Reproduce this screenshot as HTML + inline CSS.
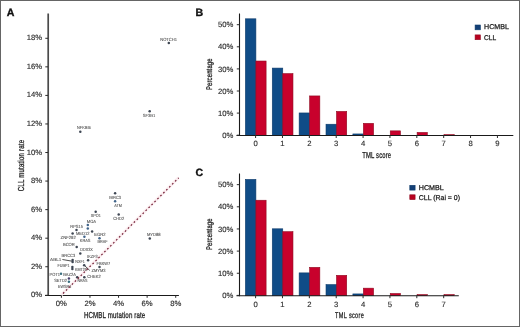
<!DOCTYPE html>
<html><head><meta charset="utf-8"><style>
html,body{margin:0;padding:0;background:#fff;}
body{width:520px;height:327px;overflow:hidden;}
.fig{position:absolute;left:0;top:0;width:520px;height:327px;will-change:transform;}
svg{display:block;font-family:"Liberation Sans", sans-serif;text-rendering:geometricPrecision;}
</style></head><body>
<div class="fig">
<svg width="520" height="327" viewBox="0 0 520 327">
<rect x="0" y="0" width="520" height="327" fill="#fff"/>
<text x="6.7" y="15.6" font-size="10.6" text-anchor="start" fill="#111" font-weight="bold" stroke="#111" stroke-width="0.35">A</text>
<text x="195.6" y="15.8" font-size="10.6" text-anchor="start" fill="#111" font-weight="bold" stroke="#111" stroke-width="0.35">B</text>
<text x="195.6" y="176.1" font-size="10.6" text-anchor="start" fill="#111" font-weight="bold" stroke="#111" stroke-width="0.35">C</text>
<line x1="48.2" y1="13.5" x2="48.2" y2="296.0" stroke="#4a4a4a" stroke-width="1.7" />
<line x1="45" y1="295.5" x2="178.9" y2="295.5" stroke="#1a1a1a" stroke-width="1.2" />
<line x1="45.3" y1="295.3" x2="48" y2="295.3" stroke="#2a2a2a" stroke-width="1" />
<text x="42.1" y="297.3" font-size="7.7" text-anchor="end" fill="#2a2a2a" font-weight="normal" stroke="#333" stroke-width="0.14">0%</text>
<line x1="45.3" y1="266.744" x2="48" y2="266.744" stroke="#2a2a2a" stroke-width="1" />
<text x="42.1" y="268.744" font-size="7.7" text-anchor="end" fill="#2a2a2a" font-weight="normal" stroke="#333" stroke-width="0.14">2%</text>
<line x1="45.3" y1="238.18800000000002" x2="48" y2="238.18800000000002" stroke="#2a2a2a" stroke-width="1" />
<text x="42.1" y="240.18800000000002" font-size="7.7" text-anchor="end" fill="#2a2a2a" font-weight="normal" stroke="#333" stroke-width="0.14">4%</text>
<line x1="45.3" y1="209.632" x2="48" y2="209.632" stroke="#2a2a2a" stroke-width="1" />
<text x="42.1" y="211.632" font-size="7.7" text-anchor="end" fill="#2a2a2a" font-weight="normal" stroke="#333" stroke-width="0.14">6%</text>
<line x1="45.3" y1="181.07600000000002" x2="48" y2="181.07600000000002" stroke="#2a2a2a" stroke-width="1" />
<text x="42.1" y="183.07600000000002" font-size="7.7" text-anchor="end" fill="#2a2a2a" font-weight="normal" stroke="#333" stroke-width="0.14">8%</text>
<line x1="45.3" y1="152.52" x2="48" y2="152.52" stroke="#2a2a2a" stroke-width="1" />
<text x="42.1" y="154.52" font-size="7.7" text-anchor="end" fill="#2a2a2a" font-weight="normal" stroke="#333" stroke-width="0.14">10%</text>
<line x1="45.3" y1="123.964" x2="48" y2="123.964" stroke="#2a2a2a" stroke-width="1" />
<text x="42.1" y="125.964" font-size="7.7" text-anchor="end" fill="#2a2a2a" font-weight="normal" stroke="#333" stroke-width="0.14">12%</text>
<line x1="45.3" y1="95.40800000000002" x2="48" y2="95.40800000000002" stroke="#2a2a2a" stroke-width="1" />
<text x="42.1" y="97.40800000000002" font-size="7.7" text-anchor="end" fill="#2a2a2a" font-weight="normal" stroke="#333" stroke-width="0.14">14%</text>
<line x1="45.3" y1="66.852" x2="48" y2="66.852" stroke="#2a2a2a" stroke-width="1" />
<text x="42.1" y="68.852" font-size="7.7" text-anchor="end" fill="#2a2a2a" font-weight="normal" stroke="#333" stroke-width="0.14">16%</text>
<line x1="45.3" y1="38.29599999999999" x2="48" y2="38.29599999999999" stroke="#2a2a2a" stroke-width="1" />
<text x="42.1" y="40.29599999999999" font-size="7.7" text-anchor="end" fill="#2a2a2a" font-weight="normal" stroke="#333" stroke-width="0.14">18%</text>
<line x1="61.4" y1="295.3" x2="61.4" y2="297.8" stroke="#2a2a2a" stroke-width="1" />
<text x="61.4" y="306.4" font-size="7.7" text-anchor="middle" fill="#2a2a2a" font-weight="normal" stroke="#333" stroke-width="0.14">0%</text>
<line x1="89.97999999999999" y1="295.3" x2="89.97999999999999" y2="297.8" stroke="#2a2a2a" stroke-width="1" />
<text x="89.97999999999999" y="306.4" font-size="7.7" text-anchor="middle" fill="#2a2a2a" font-weight="normal" stroke="#333" stroke-width="0.14">2%</text>
<line x1="118.56" y1="295.3" x2="118.56" y2="297.8" stroke="#2a2a2a" stroke-width="1" />
<text x="118.56" y="306.4" font-size="7.7" text-anchor="middle" fill="#2a2a2a" font-weight="normal" stroke="#333" stroke-width="0.14">4%</text>
<line x1="147.14" y1="295.3" x2="147.14" y2="297.8" stroke="#2a2a2a" stroke-width="1" />
<text x="147.14" y="306.4" font-size="7.7" text-anchor="middle" fill="#2a2a2a" font-weight="normal" stroke="#333" stroke-width="0.14">6%</text>
<line x1="175.72" y1="295.3" x2="175.72" y2="297.8" stroke="#2a2a2a" stroke-width="1" />
<text x="175.72" y="306.4" font-size="7.7" text-anchor="middle" fill="#2a2a2a" font-weight="normal" stroke="#333" stroke-width="0.14">8%</text>
<text x="0" y="0" font-size="8.6" fill="#222" stroke="#222" stroke-width="0.28" textLength="85.28" lengthAdjust="spacing" transform="translate(83.9,317.6) scale(0.72,1)">HCMBL mutation rate</text>
<text x="0" y="0" font-size="8.7" fill="#222" stroke="#222" stroke-width="0.28" textLength="73.43" lengthAdjust="spacing" transform="translate(24.4,191.3) rotate(-90) scale(0.7,1)">CLL mutation rate</text>
<line x1="61.2" y1="295.0" x2="178.5" y2="177.7" stroke="#fcedf0" stroke-width="2.8"/>
<line x1="62.4" y1="259.5" x2="72.1" y2="261.2" stroke="#222" stroke-width="0.8" />
<line x1="84.2" y1="265.2" x2="89.7" y2="270.4" stroke="#222" stroke-width="0.8" />
<circle cx="168.8" cy="43" r="1.25" fill="#3e4653"/>
<circle cx="149.7" cy="111.2" r="1.25" fill="#3e4653"/>
<circle cx="80.3" cy="131.7" r="1.25" fill="#3e4653"/>
<circle cx="115.1" cy="193.3" r="1.25" fill="#3e4653"/>
<circle cx="115.1" cy="201.3" r="1.25" fill="#41648a"/>
<circle cx="118.7" cy="214.6" r="1.25" fill="#3e4653"/>
<circle cx="149.8" cy="238.6" r="1.25" fill="#3e4653"/>
<circle cx="95.7" cy="211.7" r="1.25" fill="#3e4653"/>
<circle cx="87.8" cy="225.1" r="1.25" fill="#41648a"/>
<circle cx="87.8" cy="228.6" r="1.25" fill="#41648a"/>
<circle cx="76.5" cy="230.1" r="1.25" fill="#3e4653"/>
<circle cx="72.6" cy="233.6" r="1.25" fill="#3e4653"/>
<circle cx="92.1" cy="231.5" r="1.25" fill="#3e4653"/>
<circle cx="84.4" cy="236.7" r="1.25" fill="#41648a"/>
<circle cx="99.5" cy="238.3" r="1.25" fill="#41648a"/>
<circle cx="76.7" cy="247" r="1.25" fill="#3e4653"/>
<circle cx="80.3" cy="253.5" r="1.25" fill="#3e4653"/>
<circle cx="88.1" cy="260.3" r="1.25" fill="#3e4653"/>
<circle cx="72.6" cy="260.0" r="1.25" fill="#3e4653"/>
<circle cx="72.6" cy="262.1" r="1.25" fill="#3e4653"/>
<circle cx="72.4" cy="267" r="1.25" fill="#3e4653"/>
<circle cx="72.4" cy="269" r="1.25" fill="#3e4653"/>
<circle cx="84.2" cy="265.2" r="1.25" fill="#3e4653"/>
<circle cx="99.5" cy="266.9" r="1.25" fill="#3e4653"/>
<circle cx="84.3" cy="277.2" r="1.25" fill="#3e4653"/>
<circle cx="61.0" cy="273.7" r="1.25" fill="#3a6f80"/>
<circle cx="77.2" cy="277.2" r="1.25" fill="#3e4653"/>
<circle cx="68.9" cy="278.4" r="1.25" fill="#463d6a"/>
<circle cx="68.9" cy="281.8" r="1.25" fill="#3a6f80"/>
<text x="0" y="0" font-size="45.0" fill="#4a4a4a" stroke="#5a5a5a" stroke-width="0.8" textLength="168.0" lengthAdjust="spacingAndGlyphs" transform="translate(160.2,40.5) scale(0.1)">NOTCH1</text>
<text x="0" y="0" font-size="45.0" fill="#4a4a4a" stroke="#5a5a5a" stroke-width="0.8" textLength="124.0" lengthAdjust="spacingAndGlyphs" transform="translate(142.8,116.5) scale(0.1)">SF3B1</text>
<text x="0" y="0" font-size="45.0" fill="#4a4a4a" stroke="#5a5a5a" stroke-width="0.8" textLength="142.0" lengthAdjust="spacingAndGlyphs" transform="translate(76.9,129.0) scale(0.1)">NFKBIE</text>
<text x="0" y="0" font-size="45.0" fill="#4a4a4a" stroke="#5a5a5a" stroke-width="0.8" textLength="118.0" lengthAdjust="spacingAndGlyphs" transform="translate(109.2,198.5) scale(0.1)">BIRC3</text>
<text x="0" y="0" font-size="45.0" fill="#4a4a4a" stroke="#5a5a5a" stroke-width="0.8" textLength="77.0" lengthAdjust="spacingAndGlyphs" transform="translate(114.3,206.6) scale(0.1)">ATM</text>
<text x="0" y="0" font-size="45.0" fill="#4a4a4a" stroke="#5a5a5a" stroke-width="0.8" textLength="110.0" lengthAdjust="spacingAndGlyphs" transform="translate(113.2,219.9) scale(0.1)">CHD2</text>
<text x="0" y="0" font-size="45.0" fill="#4a4a4a" stroke="#5a5a5a" stroke-width="0.8" textLength="137.0" lengthAdjust="spacingAndGlyphs" transform="translate(146.9,236.1) scale(0.1)">MYD88</text>
<text x="0" y="0" font-size="45.0" fill="#4a4a4a" stroke="#5a5a5a" stroke-width="0.8" textLength="101.0" lengthAdjust="spacingAndGlyphs" transform="translate(90.7,216.6) scale(0.1)">XPO1</text>
<text x="0" y="0" font-size="45.0" fill="#4a4a4a" stroke="#5a5a5a" stroke-width="0.8" textLength="94.0" lengthAdjust="spacingAndGlyphs" transform="translate(86.7,222.79999999999998) scale(0.1)">MGA</text>
<text x="0" y="0" font-size="45.0" fill="#4a4a4a" stroke="#5a5a5a" stroke-width="0.8" textLength="126.0" lengthAdjust="spacingAndGlyphs" transform="translate(70.3,227.79999999999998) scale(0.1)">RPS15</text>
<text x="0" y="0" font-size="45.0" fill="#4a4a4a" stroke="#5a5a5a" stroke-width="0.8" textLength="135.0" lengthAdjust="spacingAndGlyphs" transform="translate(76,235.2) scale(0.1)">MED12</text>
<text x="0" y="0" font-size="45.0" fill="#4a4a4a" stroke="#5a5a5a" stroke-width="0.8" textLength="113.0" lengthAdjust="spacingAndGlyphs" transform="translate(94.2,236.2) scale(0.1)">EGR2</text>
<text x="0" y="0" font-size="45.0" fill="#4a4a4a" stroke="#5a5a5a" stroke-width="0.8" textLength="152.0" lengthAdjust="spacingAndGlyphs" transform="translate(60.6,238.6) scale(0.1)">ZNF292</text>
<text x="0" y="0" font-size="45.0" fill="#4a4a4a" stroke="#5a5a5a" stroke-width="0.8" textLength="106.0" lengthAdjust="spacingAndGlyphs" transform="translate(79.8,242.0) scale(0.1)">KRAS</text>
<text x="0" y="0" font-size="45.0" fill="#4a4a4a" stroke="#5a5a5a" stroke-width="0.8" textLength="100.0" lengthAdjust="spacingAndGlyphs" transform="translate(97.6,243.29999999999998) scale(0.1)">BRAF</text>
<text x="0" y="0" font-size="45.0" fill="#4a4a4a" stroke="#5a5a5a" stroke-width="0.8" textLength="119.0" lengthAdjust="spacingAndGlyphs" transform="translate(62.9,245.5) scale(0.1)">BCOR</text>
<text x="0" y="0" font-size="45.0" fill="#4a4a4a" stroke="#5a5a5a" stroke-width="0.8" textLength="125.0" lengthAdjust="spacingAndGlyphs" transform="translate(80.25,250.85) scale(0.1)">DDX3X</text>
<text x="0" y="0" font-size="45.0" fill="#4a4a4a" stroke="#5a5a5a" stroke-width="0.8" textLength="136.0" lengthAdjust="spacingAndGlyphs" transform="translate(61.6,256.90000000000003) scale(0.1)">BRCC3</text>
<text x="0" y="0" font-size="45.0" fill="#4a4a4a" stroke="#5a5a5a" stroke-width="0.8" textLength="104.0" lengthAdjust="spacingAndGlyphs" transform="translate(87.2,257.90000000000003) scale(0.1)">IKZF3</text>
<text x="0" y="0" font-size="45.0" fill="#4a4a4a" stroke="#5a5a5a" stroke-width="0.8" textLength="112.0" lengthAdjust="spacingAndGlyphs" transform="translate(50.1,260.90000000000003) scale(0.1)">ABL1</text>
<text x="0" y="0" font-size="45.0" fill="#4a4a4a" stroke="#5a5a5a" stroke-width="0.8" textLength="96.0" lengthAdjust="spacingAndGlyphs" transform="translate(75.2,263.1) scale(0.1)">NXF1</text>
<text x="0" y="0" font-size="45.0" fill="#4a4a4a" stroke="#5a5a5a" stroke-width="0.8" textLength="120.0" lengthAdjust="spacingAndGlyphs" transform="translate(57.5,266.5) scale(0.1)">FUBP1</text>
<text x="0" y="0" font-size="45.0" fill="#4a4a4a" stroke="#5a5a5a" stroke-width="0.8" textLength="125.0" lengthAdjust="spacingAndGlyphs" transform="translate(75,271.3) scale(0.1)">KMT2D</text>
<text x="0" y="0" font-size="45.0" fill="#4a4a4a" stroke="#5a5a5a" stroke-width="0.8" textLength="140.0" lengthAdjust="spacingAndGlyphs" transform="translate(91.5,271.90000000000003) scale(0.1)">ZMYM3</text>
<text x="0" y="0" font-size="45.0" fill="#4a4a4a" stroke="#5a5a5a" stroke-width="0.8" textLength="137.0" lengthAdjust="spacingAndGlyphs" transform="translate(96.5,264.90000000000003) scale(0.1)">FBXW7</text>
<text x="0" y="0" font-size="45.0" fill="#4a4a4a" stroke="#5a5a5a" stroke-width="0.8" textLength="135.0" lengthAdjust="spacingAndGlyphs" transform="translate(87.2,278.1) scale(0.1)">CHEK2</text>
<text x="0" y="0" font-size="45.0" fill="#4a4a4a" stroke="#5a5a5a" stroke-width="0.8" textLength="105.0" lengthAdjust="spacingAndGlyphs" transform="translate(49.6,275.5) scale(0.1)">POT1</text>
<text x="0" y="0" font-size="45.0" fill="#4a4a4a" stroke="#5a5a5a" stroke-width="0.8" textLength="126.0" lengthAdjust="spacingAndGlyphs" transform="translate(63.2,276.1) scale(0.1)">BAZ2A</text>
<text x="0" y="0" font-size="45.0" fill="#4a4a4a" stroke="#5a5a5a" stroke-width="0.8" textLength="128.0" lengthAdjust="spacingAndGlyphs" transform="translate(54.2,281.70000000000005) scale(0.1)">SETD2</text>
<text x="0" y="0" font-size="45.0" fill="#4a4a4a" stroke="#5a5a5a" stroke-width="0.8" textLength="132.0" lengthAdjust="spacingAndGlyphs" transform="translate(58,288.1) scale(0.1)">EWSR1</text>
<text x="0" y="0" font-size="45.0" fill="#4a4a4a" stroke="#5a5a5a" stroke-width="0.8" textLength="100.0" lengthAdjust="spacingAndGlyphs" transform="translate(77.4,282.1) scale(0.1)">NRAS</text>
<line x1="62.6" y1="293.9" x2="178.7" y2="177.8" stroke="#6e1c32" stroke-width="1.15" stroke-dasharray="1.7 2.47" stroke-dashoffset="-0.6"/>
<rect x="245.40" y="18.81" width="10.50" height="116.69" fill="#0f4c87" stroke="#0d3a6a" stroke-width="0.6"/>
<rect x="255.90" y="61.02" width="10.20" height="74.48" fill="#c8012c" stroke="#8f0a20" stroke-width="0.6"/>
<rect x="272.27" y="68.09" width="10.50" height="67.41" fill="#0f4c87" stroke="#0d3a6a" stroke-width="0.6"/>
<rect x="282.77" y="73.62" width="10.20" height="61.88" fill="#c8012c" stroke="#8f0a20" stroke-width="0.6"/>
<rect x="299.14" y="112.96" width="10.50" height="22.54" fill="#0f4c87" stroke="#0d3a6a" stroke-width="0.6"/>
<rect x="309.64" y="95.94" width="10.20" height="39.56" fill="#c8012c" stroke="#8f0a20" stroke-width="0.6"/>
<rect x="326.01" y="124.23" width="10.50" height="11.27" fill="#0f4c87" stroke="#0d3a6a" stroke-width="0.6"/>
<rect x="336.51" y="111.41" width="10.20" height="24.09" fill="#c8012c" stroke="#8f0a20" stroke-width="0.6"/>
<rect x="352.88" y="133.95" width="10.50" height="1.55" fill="#0f4c87" stroke="#0d3a6a" stroke-width="0.6"/>
<rect x="363.38" y="123.34" width="10.20" height="12.15" fill="#c8012c" stroke="#8f0a20" stroke-width="0.6"/>
<rect x="390.25" y="130.86" width="10.20" height="4.64" fill="#c8012c" stroke="#8f0a20" stroke-width="0.6"/>
<rect x="417.12" y="132.41" width="10.20" height="3.09" fill="#c8012c" stroke="#8f0a20" stroke-width="0.6"/>
<rect x="443.99" y="134.62" width="10.20" height="0.88" fill="#c8012c" stroke="#8f0a20" stroke-width="0.6"/>
<line x1="239.5" y1="13.5" x2="239.5" y2="136.0" stroke="#1a1a1a" stroke-width="1.1" />
<line x1="236.5" y1="135.5" x2="513.3" y2="135.5" stroke="#1a1a1a" stroke-width="1.1" />
<line x1="236.8" y1="135.2" x2="239.5" y2="135.2" stroke="#2a2a2a" stroke-width="1" />
<text x="233.3" y="137.79999999999998" font-size="7.7" text-anchor="end" fill="#2a2a2a" font-weight="normal" stroke="#333" stroke-width="0.14">0%</text>
<line x1="236.8" y1="113.1" x2="239.5" y2="113.1" stroke="#2a2a2a" stroke-width="1" />
<text x="233.3" y="115.69999999999999" font-size="7.7" text-anchor="end" fill="#2a2a2a" font-weight="normal" stroke="#333" stroke-width="0.14">10%</text>
<line x1="236.8" y1="90.99999999999999" x2="239.5" y2="90.99999999999999" stroke="#2a2a2a" stroke-width="1" />
<text x="233.3" y="93.59999999999998" font-size="7.7" text-anchor="end" fill="#2a2a2a" font-weight="normal" stroke="#333" stroke-width="0.14">20%</text>
<line x1="236.8" y1="68.89999999999999" x2="239.5" y2="68.89999999999999" stroke="#2a2a2a" stroke-width="1" />
<text x="233.3" y="71.49999999999999" font-size="7.7" text-anchor="end" fill="#2a2a2a" font-weight="normal" stroke="#333" stroke-width="0.14">30%</text>
<line x1="236.8" y1="46.79999999999998" x2="239.5" y2="46.79999999999998" stroke="#2a2a2a" stroke-width="1" />
<text x="233.3" y="49.399999999999984" font-size="7.7" text-anchor="end" fill="#2a2a2a" font-weight="normal" stroke="#333" stroke-width="0.14">40%</text>
<line x1="236.8" y1="24.69999999999999" x2="239.5" y2="24.69999999999999" stroke="#2a2a2a" stroke-width="1" />
<text x="233.3" y="27.29999999999999" font-size="7.7" text-anchor="end" fill="#2a2a2a" font-weight="normal" stroke="#333" stroke-width="0.14">50%</text>
<line x1="255.6" y1="135.2" x2="255.6" y2="138.0" stroke="#2a2a2a" stroke-width="1" />
<text x="255.6" y="146.3" font-size="7.7" text-anchor="middle" fill="#2a2a2a" font-weight="normal" stroke="#333" stroke-width="0.14">0</text>
<line x1="282.46999999999997" y1="135.2" x2="282.46999999999997" y2="138.0" stroke="#2a2a2a" stroke-width="1" />
<text x="282.46999999999997" y="146.3" font-size="7.7" text-anchor="middle" fill="#2a2a2a" font-weight="normal" stroke="#333" stroke-width="0.14">1</text>
<line x1="309.34" y1="135.2" x2="309.34" y2="138.0" stroke="#2a2a2a" stroke-width="1" />
<text x="309.34" y="146.3" font-size="7.7" text-anchor="middle" fill="#2a2a2a" font-weight="normal" stroke="#333" stroke-width="0.14">2</text>
<line x1="336.21" y1="135.2" x2="336.21" y2="138.0" stroke="#2a2a2a" stroke-width="1" />
<text x="336.21" y="146.3" font-size="7.7" text-anchor="middle" fill="#2a2a2a" font-weight="normal" stroke="#333" stroke-width="0.14">3</text>
<line x1="363.08" y1="135.2" x2="363.08" y2="138.0" stroke="#2a2a2a" stroke-width="1" />
<text x="363.08" y="146.3" font-size="7.7" text-anchor="middle" fill="#2a2a2a" font-weight="normal" stroke="#333" stroke-width="0.14">4</text>
<line x1="389.95" y1="135.2" x2="389.95" y2="138.0" stroke="#2a2a2a" stroke-width="1" />
<text x="389.95" y="146.3" font-size="7.7" text-anchor="middle" fill="#2a2a2a" font-weight="normal" stroke="#333" stroke-width="0.14">5</text>
<line x1="416.82" y1="135.2" x2="416.82" y2="138.0" stroke="#2a2a2a" stroke-width="1" />
<text x="416.82" y="146.3" font-size="7.7" text-anchor="middle" fill="#2a2a2a" font-weight="normal" stroke="#333" stroke-width="0.14">6</text>
<line x1="443.69" y1="135.2" x2="443.69" y2="138.0" stroke="#2a2a2a" stroke-width="1" />
<text x="443.69" y="146.3" font-size="7.7" text-anchor="middle" fill="#2a2a2a" font-weight="normal" stroke="#333" stroke-width="0.14">7</text>
<line x1="470.56" y1="135.2" x2="470.56" y2="138.0" stroke="#2a2a2a" stroke-width="1" />
<text x="470.56" y="146.3" font-size="7.7" text-anchor="middle" fill="#2a2a2a" font-weight="normal" stroke="#333" stroke-width="0.14">8</text>
<line x1="497.43" y1="135.2" x2="497.43" y2="138.0" stroke="#2a2a2a" stroke-width="1" />
<text x="497.43" y="146.3" font-size="7.7" text-anchor="middle" fill="#2a2a2a" font-weight="normal" stroke="#333" stroke-width="0.14">9</text>
<text x="0" y="0" font-size="8.7" fill="#222" stroke="#222" stroke-width="0.28" textLength="42.50" lengthAdjust="spacing" transform="translate(362.2,157.8) scale(0.68,1)">TML score</text>
<text x="0" y="0" font-size="8.2" fill="#222" stroke="#222" stroke-width="0.3" textLength="44.03" lengthAdjust="spacing" transform="translate(212.3,90.1) rotate(-90) scale(0.72,1)">Percentage</text>
<rect x="475.10" y="25.00" width="5.30" height="4.80" fill="#133f76" stroke="#0d3a6a" stroke-width="0.6"/>
<rect x="475.10" y="34.90" width="5.30" height="4.80" fill="#b8011f" stroke="#8f0a20" stroke-width="0.6"/>
<text x="484" y="29.4" font-size="7.0" text-anchor="start" fill="#1a1a1a" font-weight="normal" textLength="24.9" lengthAdjust="spacingAndGlyphs" stroke="#1a1a1a" stroke-width="0.25">HCMBL</text>
<text x="484" y="39.5" font-size="7.0" text-anchor="start" fill="#1a1a1a" font-weight="normal" textLength="12.2" lengthAdjust="spacingAndGlyphs" stroke="#1a1a1a" stroke-width="0.25">CLL</text>
<rect x="245.40" y="179.41" width="10.50" height="116.29" fill="#0f4c87" stroke="#0d3a6a" stroke-width="0.6"/>
<rect x="255.90" y="200.23" width="10.20" height="95.47" fill="#c8012c" stroke="#8f0a20" stroke-width="0.6"/>
<rect x="272.27" y="228.81" width="10.50" height="66.89" fill="#0f4c87" stroke="#0d3a6a" stroke-width="0.6"/>
<rect x="282.77" y="231.69" width="10.20" height="64.01" fill="#c8012c" stroke="#8f0a20" stroke-width="0.6"/>
<rect x="299.14" y="272.89" width="10.50" height="22.81" fill="#0f4c87" stroke="#0d3a6a" stroke-width="0.6"/>
<rect x="309.64" y="267.35" width="10.20" height="28.35" fill="#c8012c" stroke="#8f0a20" stroke-width="0.6"/>
<rect x="326.01" y="284.62" width="10.50" height="11.07" fill="#0f4c87" stroke="#0d3a6a" stroke-width="0.6"/>
<rect x="336.51" y="275.32" width="10.20" height="20.38" fill="#c8012c" stroke="#8f0a20" stroke-width="0.6"/>
<rect x="352.88" y="293.93" width="10.50" height="1.77" fill="#0f4c87" stroke="#0d3a6a" stroke-width="0.6"/>
<rect x="363.38" y="288.17" width="10.20" height="7.53" fill="#c8012c" stroke="#8f0a20" stroke-width="0.6"/>
<rect x="390.25" y="293.49" width="10.20" height="2.21" fill="#c8012c" stroke="#8f0a20" stroke-width="0.6"/>
<rect x="417.12" y="294.59" width="10.20" height="1.11" fill="#c8012c" stroke="#8f0a20" stroke-width="0.6"/>
<rect x="443.99" y="294.59" width="10.20" height="1.11" fill="#c8012c" stroke="#8f0a20" stroke-width="0.6"/>
<line x1="239.5" y1="173.5" x2="239.5" y2="296.2" stroke="#1a1a1a" stroke-width="1.1" />
<line x1="236.5" y1="295.7" x2="458.8" y2="295.7" stroke="#1a1a1a" stroke-width="1.1" />
<line x1="236.8" y1="295.4" x2="239.5" y2="295.4" stroke="#2a2a2a" stroke-width="1" />
<text x="233.3" y="298.0" font-size="7.7" text-anchor="end" fill="#2a2a2a" font-weight="normal" stroke="#333" stroke-width="0.14">0%</text>
<line x1="236.8" y1="273.25" x2="239.5" y2="273.25" stroke="#2a2a2a" stroke-width="1" />
<text x="233.3" y="275.85" font-size="7.7" text-anchor="end" fill="#2a2a2a" font-weight="normal" stroke="#333" stroke-width="0.14">10%</text>
<line x1="236.8" y1="251.09999999999997" x2="239.5" y2="251.09999999999997" stroke="#2a2a2a" stroke-width="1" />
<text x="233.3" y="253.69999999999996" font-size="7.7" text-anchor="end" fill="#2a2a2a" font-weight="normal" stroke="#333" stroke-width="0.14">20%</text>
<line x1="236.8" y1="228.95" x2="239.5" y2="228.95" stroke="#2a2a2a" stroke-width="1" />
<text x="233.3" y="231.54999999999998" font-size="7.7" text-anchor="end" fill="#2a2a2a" font-weight="normal" stroke="#333" stroke-width="0.14">30%</text>
<line x1="236.8" y1="206.79999999999998" x2="239.5" y2="206.79999999999998" stroke="#2a2a2a" stroke-width="1" />
<text x="233.3" y="209.39999999999998" font-size="7.7" text-anchor="end" fill="#2a2a2a" font-weight="normal" stroke="#333" stroke-width="0.14">40%</text>
<line x1="236.8" y1="184.64999999999998" x2="239.5" y2="184.64999999999998" stroke="#2a2a2a" stroke-width="1" />
<text x="233.3" y="187.24999999999997" font-size="7.7" text-anchor="end" fill="#2a2a2a" font-weight="normal" stroke="#333" stroke-width="0.14">50%</text>
<line x1="255.6" y1="295.4" x2="255.6" y2="298.2" stroke="#2a2a2a" stroke-width="1" />
<text x="255.6" y="306.5" font-size="7.7" text-anchor="middle" fill="#2a2a2a" font-weight="normal" stroke="#333" stroke-width="0.14">0</text>
<line x1="282.46999999999997" y1="295.4" x2="282.46999999999997" y2="298.2" stroke="#2a2a2a" stroke-width="1" />
<text x="282.46999999999997" y="306.5" font-size="7.7" text-anchor="middle" fill="#2a2a2a" font-weight="normal" stroke="#333" stroke-width="0.14">1</text>
<line x1="309.34" y1="295.4" x2="309.34" y2="298.2" stroke="#2a2a2a" stroke-width="1" />
<text x="309.34" y="306.5" font-size="7.7" text-anchor="middle" fill="#2a2a2a" font-weight="normal" stroke="#333" stroke-width="0.14">2</text>
<line x1="336.21" y1="295.4" x2="336.21" y2="298.2" stroke="#2a2a2a" stroke-width="1" />
<text x="336.21" y="306.5" font-size="7.7" text-anchor="middle" fill="#2a2a2a" font-weight="normal" stroke="#333" stroke-width="0.14">3</text>
<line x1="363.08" y1="295.4" x2="363.08" y2="298.2" stroke="#2a2a2a" stroke-width="1" />
<text x="363.08" y="306.5" font-size="7.7" text-anchor="middle" fill="#2a2a2a" font-weight="normal" stroke="#333" stroke-width="0.14">4</text>
<line x1="389.95" y1="295.4" x2="389.95" y2="298.2" stroke="#2a2a2a" stroke-width="1" />
<text x="389.95" y="306.5" font-size="7.7" text-anchor="middle" fill="#2a2a2a" font-weight="normal" stroke="#333" stroke-width="0.14">5</text>
<line x1="416.82" y1="295.4" x2="416.82" y2="298.2" stroke="#2a2a2a" stroke-width="1" />
<text x="416.82" y="306.5" font-size="7.7" text-anchor="middle" fill="#2a2a2a" font-weight="normal" stroke="#333" stroke-width="0.14">6</text>
<line x1="443.69" y1="295.4" x2="443.69" y2="298.2" stroke="#2a2a2a" stroke-width="1" />
<text x="443.69" y="306.5" font-size="7.7" text-anchor="middle" fill="#2a2a2a" font-weight="normal" stroke="#333" stroke-width="0.14">7</text>
<text x="0" y="0" font-size="8.2" fill="#222" stroke="#222" stroke-width="0.28" textLength="42.21" lengthAdjust="spacing" transform="translate(335.1,318.2) scale(0.68,1)">TML score</text>
<text x="0" y="0" font-size="8.2" fill="#222" stroke="#222" stroke-width="0.3" textLength="44.03" lengthAdjust="spacing" transform="translate(212.3,250.1) rotate(-90) scale(0.72,1)">Percentage</text>
<rect x="409.80" y="185.30" width="5.30" height="4.80" fill="#133f76" stroke="#0d3a6a" stroke-width="0.6"/>
<rect x="409.80" y="194.80" width="5.30" height="4.80" fill="#b8011f" stroke="#8f0a20" stroke-width="0.6"/>
<text x="418.8" y="190.2" font-size="7.0" text-anchor="start" fill="#1a1a1a" font-weight="normal" textLength="25.0" lengthAdjust="spacingAndGlyphs" stroke="#1a1a1a" stroke-width="0.25">HCMBL</text>
<text x="418.8" y="199.7" font-size="7.0" text-anchor="start" fill="#1a1a1a" font-weight="normal" textLength="41.2" lengthAdjust="spacingAndGlyphs" stroke="#1a1a1a" stroke-width="0.25">CLL (Rai = 0)</text>
<rect x="0.5" y="0.5" width="519" height="326" fill="none" stroke="#656565" stroke-width="1"/>
</svg>
</div>
</body></html>
